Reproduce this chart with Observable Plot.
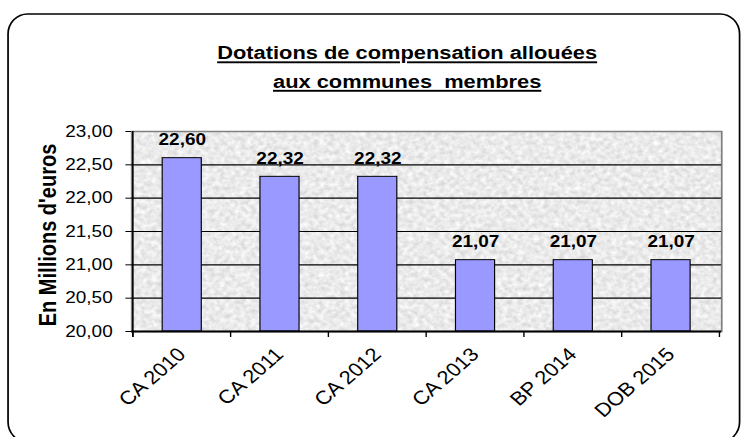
<!DOCTYPE html>
<html><head><meta charset="utf-8">
<script src="https://cdn.jsdelivr.net/npm/d3@7"></script>
<script src="https://cdn.jsdelivr.net/npm/@observablehq/plot@0.6"></script>
<style>
html,body{margin:0;padding:0;background:#fff;overflow:hidden}
#chart{width:743px;height:437px;overflow:hidden}
#chart svg{transform:scaleX(1.1502);transform-origin:0 0;display:block}
</style></head><body><div id="chart"></div>
<script>
const categories = ["CA 2010", "CA 2011", "CA 2012", "CA 2013", "BP 2014", "DOB 2015"];
const values = [22.60, 22.32, 22.32, 21.07, 21.07, 21.07];
const yTicks = [20, 20.5, 21, 21.5, 22, 22.5, 23];
const titleLines = ["Dotations de compensation allouées", "aux communes  membres"];
const yLabel = "En Millions d'euros";

const data = categories.map((c, i) => ({cat: c, value: values[i]}));
const fmt = v => v.toFixed(2).replace(".", ",");
const FONT = '"Liberation Sans", Arial, Helvetica, sans-serif';
const W = 646, H = 437;

const chart = Plot.plot({
  width: W, height: H,
  marginLeft: 114, marginRight: 19, marginTop: 131, marginBottom: 106,
  style: {fontFamily: FONT, fontSize: "16.5px", color: "#000", background: "transparent"},
  x: {type: "band", domain: categories, paddingInner: 0.6, paddingOuter: 0.3, axis: null},
  y: {domain: [20, 23], axis: null},
  marks: [
    Plot.frame({fill: "#ebebeb", ariaLabel: "bgframe"}),
    Plot.frame({stroke: "#808080", strokeWidth: 1.5}),
    Plot.ruleY(yTicks.slice(1, -1), {stroke: "#000", strokeWidth: 1.2}),
    Plot.barY(data, {x: "cat", y1: 20, y2: "value", fill: "#9999ff", stroke: "#000", strokeWidth: 1}),
    Plot.ruleY([20], {stroke: "#000", strokeWidth: 2}),
    Plot.axisY({ticks: yTicks, tickFormat: fmt, tickSize: 5, tickPadding: 11.5, label: null}),
    Plot.text(data, {x: "cat", y: "value", text: d => fmt(d.value), lineAnchor: "bottom", dy: -13, fontWeight: "bold", fontSize: 16.5}),
    Plot.text(categories, {x: d => d, text: d => d, frameAnchor: "bottom", rotate: -45, textAnchor: "end", dx: 4, dy: 24, fontSize: 19}),
    Plot.text([yLabel], {text: d => d, frameAnchor: "left", textAnchor: "middle", rotate: -90, dx: -72, dy: 3.5, fontWeight: "bold", fontSize: 20, ariaLabel: "ylabel"})
  ]
});

const svg = d3.select(chart);
// granite texture
const defs = svg.insert("defs", ":first-child");
const f = defs.append("filter").attr("id", "granite")
  .attr("x", 0).attr("y", 0).attr("width", 1).attr("height", 1)
  .attr("filterUnits", "objectBoundingBox")
  .attr("color-interpolation-filters", "sRGB");
f.append("feTurbulence").attr("type", "fractalNoise").attr("baseFrequency", 0.22)
  .attr("numOctaves", 2).attr("seed", 7).attr("result", "n");
f.append("feColorMatrix").attr("in", "n").attr("type", "matrix")
  .attr("values", "0.22 0 0 0 0.81  0.22 0 0 0 0.81  0.22 0 0 0 0.81  0 0 0 0 1");
svg.selectAll('[aria-label="bgframe"]').each(function() {
  const el = d3.select(this);
  if (this.tagName.toLowerCase() === "rect") el.attr("filter", "url(#granite)");
  else el.selectAll("rect").attr("filter", "url(#granite)");
});

// y label compression
svg.selectAll('[aria-label="ylabel"] text').attr("textLength", 170).attr("lengthAdjust", "spacingAndGlyphs");

// x ticks at band boundaries and left axis line, from the scales
const xs = chart.scale("x"), ys = chart.scale("y");
const step = xs.step ?? (xs.apply(categories[1]) - xs.apply(categories[0]));
const bw = xs.bandwidth;
const y0 = ys.apply(20), yTop = ys.apply(23);
const bounds = categories.map(c => xs.apply(c) - (step - bw) / 2);
bounds.push(xs.apply(categories[categories.length - 1]) + bw + (step - bw) / 2);
const g = svg.append("g").attr("stroke", "#000");
g.selectAll("line.t").data(bounds).join("line")
  .attr("x1", d => d).attr("x2", d => d).attr("y1", y0).attr("y2", y0 + 6).attr("stroke-width", 1.2);
g.append("line").attr("x1", bounds[0]).attr("x2", bounds[0]).attr("y1", yTop).attr("y2", y0 + 6).attr("stroke-width", 1.4);

// title
titleLines.forEach((t, i) => {
  svg.append("text").text(t)
    .attr("x", 354).attr("y", i === 0 ? 59.5 : 88)
    .attr("text-anchor", "middle")
    .style("font-family", FONT).style("font-size", "19px").style("font-weight", "bold")
    .style("text-decoration", "underline").style("white-space", "pre").attr("fill", "#000");
});

// rounded outer frame
svg.append("rect").attr("x", 7).attr("y", 14).attr("width", 636).attr("height", 428)
  .attr("rx", 17).attr("ry", 20).attr("fill", "none").attr("stroke", "#000").attr("stroke-width", 1.5);

document.getElementById("chart").append(chart);
</script>
</body></html>
